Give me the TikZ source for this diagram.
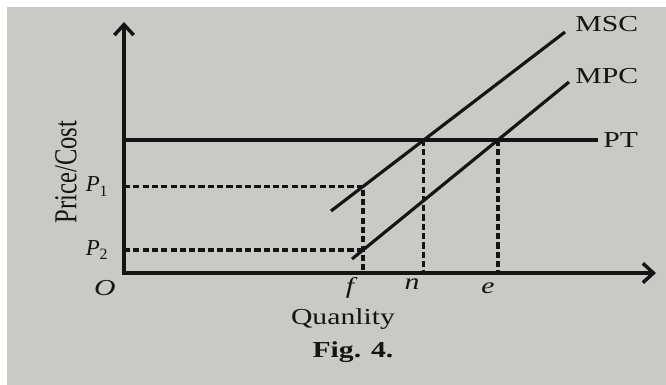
\documentclass[tikz,border=0pt]{standalone}
\usepackage{fontspec}
\setmainfont{Liberation Serif}
\usetikzlibrary{arrows.meta, positioning, intersections}

\definecolor{paper}{RGB}{201,201,198}
\definecolor{ink}{RGB}{20,20,20}
\newcommand{\stretchtxt}[1]{\scalebox{1.3}[1]{#1}}
\newcommand{\plab}[1]{\textit{P}\raisebox{-0.45ex}{\fontsize{9}{10}\selectfont #1}}

\begin{document}
\begin{tikzpicture}[
  x=0.02cm, y=-0.02cm,
  every node/.style={font=\fontsize{13}{15}\selectfont, text=ink, inner sep=0pt},
  axis/.style={{Straight Barb[length=6pt, width=11pt]}-{Straight Barb[length=6pt, width=11pt]}, line width=2pt, ink},
  curve/.style={line width=1.8pt, ink},
  guide/.style={line width=1.9pt, ink, dash pattern=on 3.5pt off 1.8pt},
]

% Photo frame
\fill[white] (0,0) rectangle (666,385);
\fill[paper] (7,7) rectangle (666,385);

% Axes
\coordinate (O) at (124,273);
\coordinate (ytop) at (124,22);
\coordinate (xend) at (656,273);
\draw[axis] (ytop) -- (O) -- (xend);

% Curves
\coordinate (ptL) at (124,140);
\coordinate (ptR) at (598,140);
\coordinate (mscL) at (331,211);
\coordinate (mscR) at (565,32);
\coordinate (mpcL) at (352,259);
\coordinate (mpcR) at (569,82);
\draw[curve, name path=pt] (ptL) -- (ptR);
\draw[curve, name path=msc] (mscL) -- (mscR);
\draw[curve, name path=mpc] (mpcL) -- (mpcR);

% Crossing points
\coordinate (fq) at (363,273);
\path[name path=fline] (fq) -- ++(0,-250);
\path[name intersections={of=pt and msc, by=nq}];
\path[name intersections={of=pt and mpc, by=eq}];
\path[name intersections={of=fline and msc, by=p1q}];
\path[name intersections={of=fline and mpc, by=p2q}];
\coordinate (p1y) at (p1q -| O);
\coordinate (p2y) at (p2q -| O);

% Dashed guides
\draw[guide] (p1y) -- (p1q) -- (fq);
\draw[guide] (p2y) -- (p2q);
\draw[guide] (nq) -- (nq |- O);
\draw[guide] (eq) -- (eq |- O);

% Curve labels
\node[above right=0cm and 0.2cm of mscR] (msclab) {\stretchtxt{MSC}};
\node[above right=-0.04cm and 0.12cm of mpcR] (mpclab) {\stretchtxt{MPC}};
\node[right=0.1cm of ptR] (ptlab) {\stretchtxt{PT}};

% Axis labels
\node[left=0.32cm of p1y] (p1lab) {\plab{1}};
\node[left=0.32cm of p2y] (p2lab) {\plab{2}};
\node[below left=0.14cm and 0.16cm of O] (olab) {\stretchtxt{\textit{O}}};
\node[below left=0.08cm and 0.1cm of fq] (flab) {\stretchtxt{\textit{f}}};
\node[below left=0.1cm and 0.08cm of nq |- O] (nlab) {\stretchtxt{\textit{n}}};
\node[below left=0.18cm and 0.06cm of eq |- O] (elab) {\stretchtxt{\textit{e}}};
\node[rotate=90, font=\fontsize{14}{16}\selectfont] (ylab) at (66,172) {\scalebox{1}[1.3]{Price/Cost}};
\node (xlab) at (343,319) {\stretchtxt{Quanlity}};
\node[font=\fontsize{13}{15}\selectfont\bfseries] (fig) at (353,352) {\stretchtxt{Fig. 4.}};

\end{tikzpicture}
\end{document}
